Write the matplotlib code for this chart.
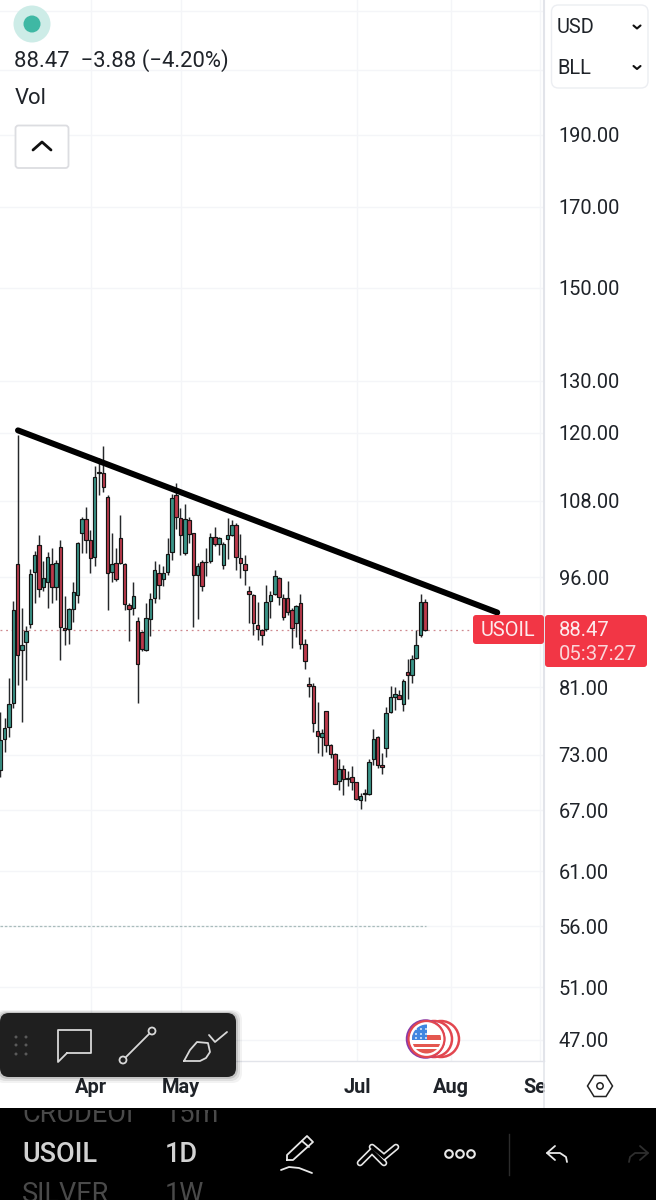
import matplotlib
matplotlib.use("Agg")
import matplotlib.pyplot as plt
from matplotlib.patches import Circle, FancyBboxPatch, Polygon, Rectangle

plt.rcParams['font.family'] = ['Roboto', 'DejaVu Sans']

# daily USOIL candles
opens = [71.3, 74.8, 76.2, 79.1, 98.0, 85.8, 86.9, 89.3, 96.7, 100.9, 94.5, 95.3, 98.0, 94.6, 100.5, 88.7, 88.6, 91.4, 93.4, 102.7,
         105.0, 101.6, 99.0, 112.9, 112.7, 108.7, 96.8, 98.1, 101.9, 98.0, 92.0, 91.5, 89.7, 88.2, 85.8, 90.0, 93.0, 96.6, 95.7, 96.7,
         99.8, 109.0, 105.1, 99.6, 104.9, 102.7, 96.3, 98.2, 98.3, 98.4, 102.1, 101.0, 97.8, 101.8, 102.5, 104.1, 98.9, 98.0, 93.9, 93.4,
         89.1, 88.5, 88.6, 92.5, 93.5, 95.8, 92.9, 93.0, 91.3, 89.5, 92.2, 86.6, 81.4, 81.1, 75.7, 75.0, 78.1, 74.1, 73.1, 70.1,
         71.4, 70.4, 70.5, 70.0, 68.1, 68.7, 68.7, 72.5, 75.0, 71.8, 73.7, 78.0, 79.8, 80.0, 78.9, 82.9, 82.5, 84.7, 87.8, 92.35]
highs = [78.0, 77.3, 82.2, 92.5, 119.6, 91.5, 89.0, 97.2, 99.9, 102.5, 98.4, 99.8, 100.4, 98.6, 101.7, 93.3, 91.6, 95.3, 101.3, 105.4,
         106.9, 103.3, 113.9, 115.3, 117.6, 109.0, 102.7, 100.4, 105.7, 98.1, 92.3, 95.3, 90.3, 88.3, 92.2, 93.7, 98.4, 97.9, 97.7, 101.9,
         109.2, 111.0, 106.8, 107.5, 105.4, 102.7, 98.1, 98.6, 100.4, 102.7, 103.7, 102.2, 101.4, 105.1, 104.9, 104.3, 102.6, 99.3, 94.7, 93.6,
         92.4, 88.6, 94.8, 93.9, 97.0, 96.0, 93.6, 95.5, 91.5, 92.0, 93.6, 87.2, 82.3, 81.5, 79.2, 76.0, 78.1, 74.2, 73.2, 72.5,
         71.8, 71.2, 71.7, 70.0, 68.8, 69.2, 72.5, 76.0, 75.1, 73.2, 78.6, 81.2, 81.0, 80.7, 82.0, 84.6, 85.1, 88.5, 93.5, 92.8]
lows = [70.5, 73.3, 75.0, 78.4, 81.3, 76.8, 81.9, 88.7, 92.2, 93.1, 93.9, 91.6, 92.2, 92.7, 84.5, 86.5, 86.6, 89.6, 92.2, 99.6,
        99.7, 96.6, 97.6, 109.0, 109.4, 91.2, 95.3, 95.5, 98.0, 91.2, 87.0, 90.6, 79.1, 85.6, 85.7, 87.7, 92.3, 92.8, 94.7, 96.3,
        98.5, 103.4, 99.4, 99.3, 101.2, 88.9, 90.0, 93.9, 96.2, 98.1, 100.7, 99.4, 97.2, 98.7, 102.3, 97.0, 95.8, 94.9, 89.5, 87.8,
        87.1, 86.5, 88.4, 90.2, 93.4, 92.0, 89.8, 90.6, 86.0, 87.5, 85.9, 83.3, 79.8, 75.6, 73.2, 72.9, 73.3, 72.6, 69.8, 69.1,
        68.6, 69.5, 69.1, 68.1, 67.1, 68.0, 68.6, 71.8, 71.5, 70.9, 72.7, 77.9, 78.2, 79.5, 78.1, 79.6, 81.5, 84.6, 87.5, 88.3]
closes = [74.7, 76.1, 78.9, 91.3, 85.1, 86.4, 88.4, 96.4, 99.3, 94.3, 95.9, 99.1, 94.6, 98.1, 88.9, 88.5, 91.4, 93.8, 101.2, 105.0,
          101.7, 98.9, 112.0, 112.7, 110.4, 96.6, 97.9, 95.7, 98.1, 92.1, 91.4, 93.2, 84.0, 85.9, 90.1, 92.8, 97.0, 94.9, 96.6, 99.5,
          108.4, 105.4, 102.5, 105.0, 102.6, 96.3, 97.7, 94.7, 98.2, 102.1, 101.0, 101.9, 101.0, 102.4, 104.0, 99.1, 98.1, 97.1, 93.5, 89.4,
          88.6, 87.8, 92.4, 93.4, 96.2, 93.1, 90.3, 91.0, 88.8, 91.8, 86.6, 84.4, 81.2, 76.6, 75.1, 75.5, 74.1, 73.1, 69.8, 71.4,
          70.3, 70.3, 70.0, 68.2, 68.5, 68.8, 72.2, 74.8, 71.8, 71.6, 77.9, 79.8, 80.2, 79.6, 81.8, 82.5, 84.6, 86.5, 92.35, 88.47]

price_ticks = [230, 210, 190, 170, 150, 130, 120, 108, 96, 81, 73, 67, 61, 56, 51, 47]
month_bars = [21.1, 42.1, 83.2, 105.1, 125.9]
month_names = ['Apr', 'May', 'Jul', 'Aug', 'Sep']

trend_bars = [4.1, 115.9]
trend_prices = [120.4, 90.9]
last_price = 88.47
support_price = 56.0
support_end_bar = 99.3

GREEN = '#3a9488'
RED = '#bd3a4b'
GRID = '#f4f5f8'
BORDER = '#e2e4ea'
ALERT = '#f23645'
TEXT = '#1f2329'

fig = plt.figure(figsize=(6.56, 12), dpi=100)

# price pane, log scale
ax = fig.add_axes([0, 139 / 1200, 544 / 656, 1061 / 1200], zorder=1)
ax.set_yscale('log')
ax.set_xlim(-0.093, 126.8)
ax.set_ylim(45.5, 233.9)

ax.yaxis.tick_right()
ax.set_yticks(price_ticks)
ax.set_yticklabels(['' if p > 190 else f"{p:.2f}" for p in price_ticks], fontsize=14.4, color=TEXT)
ax.minorticks_off()
ax.set_xticks(month_bars)
ax.set_xticklabels(month_names, fontsize=14.4, fontweight='bold', color=TEXT)
ax.tick_params(axis='y', length=0, pad=10.5)
ax.tick_params(axis='x', length=0, pad=12)
ax.grid(True, color=GRID, lw=1)
ax.set_axisbelow(True)
for side in ['top', 'left']:
    ax.spines[side].set_visible(False)
ax.spines['right'].set_color(BORDER)
ax.spines['right'].set_linewidth(1.5)
ax.spines['bottom'].set_color(BORDER)
ax.spines['bottom'].set_linewidth(1)

# support line and last price line
ax.plot([-0.1, support_end_bar], [support_price, support_price], color='#a9bcbc', lw=0.9, ls=(0, (2, 1.5)), zorder=2)
ax.plot([-0.1, 110.2], [last_price, last_price], color='#cf8a90', lw=0.9, ls=(0, (1.5, 3)), zorder=2)

# candles
for i in range(len(opens)):
    col = GREEN if closes[i] >= opens[i] else RED
    ax.vlines(i, lows[i], highs[i], color='#26282b', lw=1.05, zorder=3)
    bottom = min(opens[i], closes[i])
    ax.bar(i, abs(closes[i] - opens[i]), bottom=bottom, width=0.82, color=col,
           edgecolor='#141414', linewidth=0.85, zorder=4)

# hand drawn trend line
ax.plot(trend_bars, trend_prices, color='black', lw=4.3, solid_capstyle='round', zorder=5)

# everything else is app chrome, drawn in pixel coordinates
ui = fig.add_axes([0, 0, 1, 1], zorder=2)
ui.set_xlim(0, 656)
ui.set_ylim(1200, 0)
ui.axis('off')
ui.patch.set_alpha(0)


def rbox(x0, y0, x1, y1, r, fc, ec='none', lw=0, z=2, alpha=1):
    b = FancyBboxPatch((x0, y0), x1 - x0, y1 - y0, boxstyle=f"round,pad=0,rounding_size={r}",
                       fc=fc, ec=ec, lw=lw, zorder=z, alpha=alpha)
    ui.add_patch(b)
    return b


def stroke(xs, ys, col='#e8e8e8', lw=1.3, z=6):
    ui.plot(xs, ys, color=col, lw=lw, zorder=z, solid_capstyle='round', solid_joinstyle='round')


# status dot and header text
ui.add_patch(Circle((32, 24), 18.5, fc='#cdece7', ec='none'))
ui.add_patch(Circle((32, 24), 8.5, fc='#3fb8a4', ec='none', zorder=3))
ui.text(14, 60.5, "88.47  \u22123.88 (\u22124.20%)", fontsize=15.8, color=TEXT, va='center')
ui.text(15, 98.5, "Vol", fontsize=15.8, color=TEXT, va='center')
rbox(15.5, 125.5, 68.5, 168, 3, 'white', '#dcdde1', 1.3)
stroke([33, 42, 51], [150, 142, 150], col='#111111', lw=2)

# currency / unit selector
rbox(551.5, 5, 648, 88, 7, 'white', '#eceef2', 1)
ui.text(557, 27.5, "USD", fontsize=14.4, color=TEXT, va='center')
ui.text(557, 69, "BLL", fontsize=14.4, color=TEXT, va='center')
stroke([633.5, 637, 640.5], [25.5, 28.5, 25.5], col='#111111', lw=1.5)
stroke([633.5, 637, 640.5], [66, 69, 66], col='#111111', lw=1.5)

# symbol and price badges
rbox(473, 615, 544, 644, 3, ALERT)
ui.text(508, 631, "USOIL", fontsize=14.4, color='#fdeaec', ha='center', va='center')
rbox(545, 615, 647, 667, 3, ALERT)
ui.text(559, 631, "88.47", fontsize=14.6, color='#fdeaec', va='center')
ui.text(559, 655, "05:37:27", fontsize=14.6, color='#fbd5d9', va='center')

# study label peeking out behind the drawing toolbar
ui.text(21, 1026, "EMA", fontsize=15, fontweight='bold', color='#111111', va='center')

# floating drawing toolbar
for grow, a in [(6, 0.05), (4, 0.08), (2, 0.12)]:
    rbox(-grow, 1013 - grow / 2, 236 + grow, 1077 + grow, 10, 'black', alpha=a, z=3)
rbox(0, 1013, 236, 1077, 9, '#1f1f1f', z=4)
for dx in [16, 26]:
    for dy in [1037, 1045, 1054]:
        ui.add_patch(Circle((dx, dy), 1.5, fc='#5a5a5a', ec='none', zorder=5))
stroke([67, 91, 91, 58, 58, 67], [1053, 1053, 1030, 1030, 1062, 1053], col='#d8d8d8', lw=1.3)
stroke([126, 149], [1057, 1034], col='#d8d8d8', lw=1.3)
for cx, cy in [(123, 1060), (152, 1031)]:
    ui.add_patch(Circle((cx, cy), 3.5, fc='#1f1f1f', ec='#d8d8d8', lw=1.3, zorder=6))
stroke([184, 200, 206, 210, 208, 197, 190, 184], [1061, 1061, 1058, 1052, 1043, 1042, 1050, 1061], col='#d8d8d8')
stroke([209, 215, 227], [1035, 1042, 1032], col='#d8d8d8')

# covers the month label that runs under the scale column
ui.add_patch(Rectangle((545, 1062), 111, 47, fc='white', ec='none', zorder=2))
ui.plot([544, 544], [1061, 1108], color=BORDER, lw=1.1, zorder=3)
hx, hy = 600, 1086
ui.add_patch(Polygon([(hx - 12.5, hy), (hx - 6, hy - 10.5), (hx + 6, hy - 10.5), (hx + 12.5, hy),
                      (hx + 6, hy + 10.5), (hx - 6, hy + 10.5)], closed=True, fc='white', ec='#222222', lw=1.1, zorder=4))
ui.add_patch(Circle((hx, hy), 3.2, fc='white', ec='#222222', lw=1.1, zorder=5))

# stacked coin badge with the flag
for cx, col in [(441, '#e2474f'), (434, '#e2474f')]:
    ui.add_patch(Circle((cx, 1039), 18, fc='white', ec=col, lw=1.8, zorder=2))
ui.add_patch(Circle((425.5, 1039), 18.5, fc='white', ec='#8a3aa8', lw=1.8, zorder=3))
ui.add_patch(Circle((426.5, 1039), 18, fc='white', ec='#e2474f', lw=1.6, zorder=3))
flag = Circle((426.5, 1039), 14.5, fc='white', ec='none', zorder=3)
ui.add_patch(flag)
for y0, h in [(1035, 4.5), (1044, 3), (1049, 6)]:
    st = Rectangle((410, y0), 34, h, fc='#e4574f', ec='none', zorder=4)
    ui.add_patch(st)
    st.set_clip_path(flag)
canton = Rectangle((410, 1024), 17, 16, fc='#3f86e0', ec='none', zorder=5)
ui.add_patch(canton)
canton.set_clip_path(flag)
for sx in [416, 421, 426]:
    for sy in [1029, 1034, 1038]:
        ui.add_patch(Circle((sx, sy), 0.9, fc='white', ec='none', zorder=6))

# bottom bar, the neighbouring watchlist rows are cut by the bar edges
ui.add_patch(Rectangle((0, 1108), 656, 92, fc='black', ec='none', zorder=3))
for x, y, s, col, right in [(22, 1114.5, "CRUDEOIL", '#4a4a4a', 133), (165, 1114.5, "15m", '#4a4a4a', 656),
                            (22, 1155, "USOIL", '#d2d2d2', 656), (165, 1155, "1D", '#d2d2d2', 656),
                            (22, 1194.5, "SILVER", '#4a4a4a', 656), (165, 1194.5, "1W", '#4a4a4a', 656)]:
    t = ui.text(x, y, s, fontsize=19.5, color=col, va='center', zorder=4,
                fontweight='medium' if col == '#d2d2d2' else 'normal')
    t.set_clip_path(Rectangle((0, 1110), right, 90, transform=ui.transData))
    t.set_clip_on(True)

stroke([287, 287, 307, 313, 293, 287], [1160, 1155, 1136, 1142, 1160, 1160])
stroke([302, 309], [1141, 1147])
stroke([281, 289, 299, 312], [1170, 1167, 1168, 1173])
for xs, ys in [([360, 372, 384], [1163, 1151, 1163]), ([372, 384, 396], [1147, 1157, 1147])]:
    ui.plot(xs, ys, color='#e8e8e8', lw=4.8, zorder=6, solid_capstyle='round', solid_joinstyle='miter')
    ui.plot(xs, ys, color='black', lw=2.4, zorder=7, solid_capstyle='round', solid_joinstyle='miter')
for cx in [449, 460, 471]:
    ui.add_patch(Circle((cx, 1154), 3.8, fc='black', ec='#e8e8e8', lw=1.5, zorder=6))
ui.plot([509, 509], [1134, 1175], color='#2b2b2b', lw=1, zorder=6)
stroke([555, 547, 555], [1146, 1153, 1160])
stroke([547, 560, 566, 567], [1153, 1153, 1157, 1162])
stroke([640, 648, 640], [1146, 1153, 1160], col='#2e2e2e')
stroke([648, 635, 630, 629], [1153, 1153, 1157, 1162], col='#2e2e2e')

fig.savefig("out.png", dpi=100)
